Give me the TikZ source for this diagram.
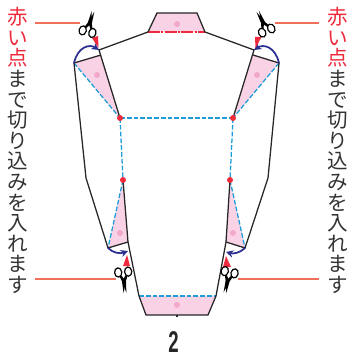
\documentclass[tikz,border=0pt]{standalone}
\usepackage{xcolor}
\usepackage{fontspec}
\newfontfamily\cjkfont{Noto Sans CJK JP}
\newfontfamily\numfont{Liberation Sans}
\usetikzlibrary{arrows.meta}
\definecolor{notered}{HTML}{EE2A3C}
\definecolor{notegray}{HTML}{333333}
\definecolor{leadred}{HTML}{F0705A}
\definecolor{foldblue}{HTML}{1C9CD8}
\definecolor{arcnavy}{HTML}{2B3090}
\definecolor{flappink}{HTML}{F9D3E5}
\definecolor{spotpink}{HTML}{F3A8CB}
\newcommand{\rd}[1]{\textcolor{notered}{#1}}
\tikzset{every picture/.style={line width=0.75pt}}
\tikzset{
  cutline/.style={black!85,line width=0.95pt,line join=miter},
  foldline/.style={foldblue,line width=0.95pt,dash pattern=on 3.6pt off 1.5pt},
  leadline/.style={leadred,line width=1pt},
  turnarrow/.style={arcnavy,line width=1.3pt,-{Stealth[length=5.5pt,width=5.5pt]}},
  flapfill/.style={fill=flappink,draw=none},
  spot/.style={circle,fill=spotpink,inner sep=0pt,minimum size=4.5pt},
  reddot/.style={circle,fill=notered,inner sep=0pt,minimum size=4.5pt},
  notchmark/.style={fill=notered,draw=none},
  notetext/.style={inner sep=0pt,anchor=north,align=center,text=notegray,
    font=\cjkfont\fontsize{15.4}{15.45}\selectfont},
  scissors/.pic={
    \draw [black,line width=0.9pt] (-5,-9.5) ellipse (3.6 and 4.6);
    \draw [black,line width=0.9pt] (5,-9.5) ellipse (3.6 and 4.6);
    \fill [black] (-4,-5.4) -- (-1.8,0) -- (1.4,11.5) -- (2,0) -- (-2,-6) -- cycle;
    \fill [black] (4,-5.4) -- (1.8,0) -- (-1.4,11.5) -- (-2,0) -- (2,-6) -- cycle;
  },
}
\begin{document}
\begin{tikzpicture}[x=0.75pt,y=0.75pt,yscale=-1]
\useasboundingbox (0,0) rectangle (350,359);
% outline points
\coordinate (collarTL) at (157,13);
\coordinate (collarTR) at (197,13);
\coordinate (collarBL) at (148,32);
\coordinate (collarBR) at (205,32);
\coordinate (shoulderL) at (99,50);
\coordinate (shoulderR) at (254,50);
\coordinate (flapinL) at (101,55);
\coordinate (flapinR) at (253,55);
\coordinate (flapoutL) at (74,63);
\coordinate (flapoutR) at (279,63);
\coordinate (elbowL) at (86,178);
\coordinate (elbowR) at (268,178);
\coordinate (cuffoutL) at (108,248);
\coordinate (cuffoutR) at (245,248);
\coordinate (cuffinL) at (128,242);
\coordinate (cuffinR) at (226,242);
\coordinate (baseL) at (139,296);
\coordinate (baseR) at (216,296);
\coordinate (footL) at (146,315);
\coordinate (footR) at (208,315);
\coordinate (tickend) at (177,317);
\coordinate (tickstart) at (177,315);
% pink flaps
\fill [flapfill] (collarTL) -- (collarTR) -- (collarBR) -- (collarBL) -- cycle;
\fill [flapfill] (flapoutL) -- (flapinL) -- (120,118) -- cycle;
\fill [flapfill] (flapoutR) -- (flapinR) -- (233,118) -- cycle;
\fill [flapfill] (cuffoutL) -- (cuffinL) -- (123,180) -- cycle;
\fill [flapfill] (cuffoutR) -- (cuffinR) -- (230,180) -- cycle;
\fill [flapfill] (baseL) -- (baseR) -- (footR) -- (footL) -- cycle;
\node [spot] (spotC) at (177,24) {};
\node [spot] (spotL) at (97,75) {};
\node [spot] (spotR) at (257,75) {};
\node [spot] (spotA) at (120,233) {};
\node [spot] (spotB) at (233,233) {};
\node [spot] (spotF) at (177,305) {};
% fold lines
\coordinate (cornerLc) at (120,118);
\coordinate (cornerRc) at (233,118);
\coordinate (waistLc) at (123,180);
\coordinate (waistRc) at (230,180);
\draw [foldline] (cornerLc) -- (cornerRc);
\draw [foldline] (cornerLc) -- (waistLc);
\draw [foldline] (cornerRc) -- (waistRc);
\draw [foldline] (flapoutL) -- (cornerLc);
\draw [foldline] (flapoutR) -- (cornerRc);
\draw [foldline] (waistLc) -- (cuffoutL);
\draw [foldline] (waistRc) -- (cuffoutR);
\draw [foldline] (baseL) -- (baseR);
\draw [notered,line width=0.8pt,dash pattern=on 9pt off 1pt on 1.5pt off 1pt] (collarBL) -- (collarBR);
% cut lines
\draw [cutline] (collarBL) -- (collarTL) -- (collarTR) -- (collarBR) -- (shoulderR) -- (cornerRc);
\draw [cutline] (collarBL) -- (shoulderL) -- (cornerLc);
\draw [cutline] (flapinL) -- (flapoutL) -- (elbowL) -- (cuffoutL) -- (cuffinL);
\draw [cutline] (flapinR) -- (flapoutR) -- (elbowR) -- (cuffoutR) -- (cuffinR);
\draw [cutline] (waistLc) -- (cuffinL) -- (baseL) -- (footL) -- (footR) -- (baseR) -- (cuffinR) -- (waistRc);
\draw [cutline] (tickstart) -- (tickend);
% red dots
\node [reddot] (cornerL) at (cornerLc) {};
\node [reddot] (cornerR) at (cornerRc) {};
\node [reddot] (waistL) at (waistLc) {};
\node [reddot] (waistR) at (waistRc) {};
% turn arrows
\draw [turnarrow] (flapoutL) .. controls (78,46) and (90,44) .. (shoulderL);
\draw [turnarrow] (flapoutR) .. controls (275,46) and (263,44) .. (shoulderR);
\draw [turnarrow] (cuffoutL) .. controls (113,253) and (120,254) .. (128,251);
\draw [turnarrow] (cuffoutR) .. controls (240,253) and (233,254) .. (226,252);
% notches
\fill [notchmark] (92,38) -- (98,36) -- (98.5,48) -- cycle;
\fill [notchmark] (255,37) -- (261.5,37) -- (255.5,48) -- cycle;
\fill [notchmark] (123,266) -- (130,266) -- (127,255) -- cycle;
\fill [notchmark] (223,267) -- (231,267) -- (226,256) -- cycle;
% scissors
\pic [rotate=-15] at (90,22.5) {scissors};
\pic [rotate=25] at (262.7,22) {scissors};
\pic [rotate=185] at (124,281.5) {scissors};
\pic [rotate=167] at (227.5,281.5) {scissors};
% leaders
\coordinate (leadA) at (35,23);
\coordinate (leadB) at (80,23);
\coordinate (leadC) at (275,23);
\coordinate (leadD) at (319,23);
\coordinate (leadE) at (35,279);
\coordinate (leadF) at (116,279);
\coordinate (leadG) at (238,279);
\coordinate (leadH) at (319,279);
\draw [leadline] (leadA) -- (leadB);
\draw [leadline] (leadC) -- (leadD);
\draw [leadline] (leadE) -- (leadF);
\draw [leadline] (leadG) -- (leadH);
% notes
\node [notetext] (noteL) at (18,7) {\rd{赤}\\\rd{い}\\\rd{点}\\ま\\で\\切\\り\\込\\み\\を\\入\\れ\\ま\\す};
\node [notetext] (noteR) at (338,7) {\rd{赤}\\\rd{い}\\\rd{点}\\ま\\で\\切\\り\\込\\み\\を\\入\\れ\\ま\\す};
\node [inner sep=0pt,xscale=0.62,text=black!85,font=\numfont\bfseries\fontsize{22.5}{22.5}\selectfont] (pagenum) at (173.5,342.5) {2};
\end{tikzpicture}
\end{document}
